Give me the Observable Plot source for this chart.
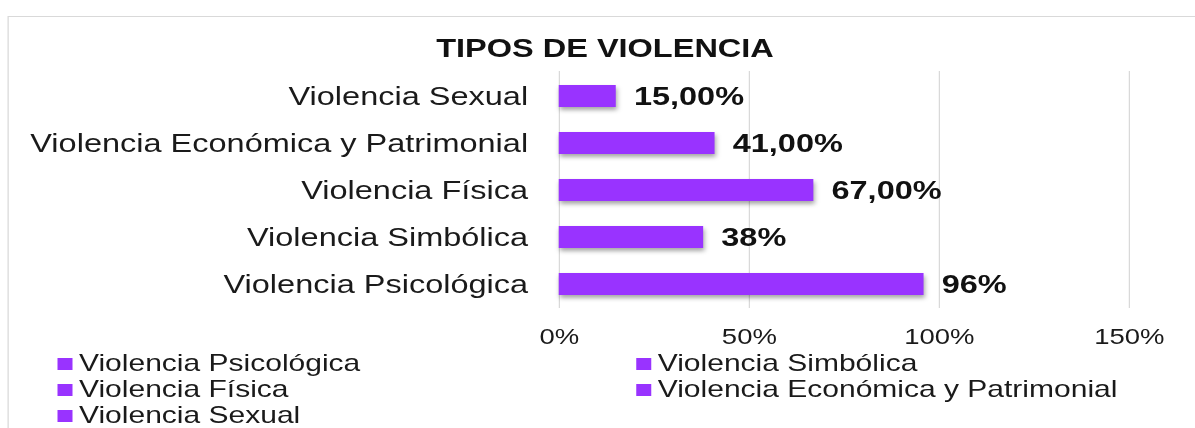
<!DOCTYPE html>
<html>
<head>
<meta charset="utf-8">
<script src="https://cdn.jsdelivr.net/npm/d3@7"></script>
<script src="https://cdn.jsdelivr.net/npm/@observablehq/plot@0.6"></script>
<style>
  html, body { margin: 0; padding: 0; background: #fff; overflow: hidden; width: 1195px; height: 428px; }
  #root { position: absolute; left: 0; top: 0; width: 956px; height: 428px; transform: scaleX(1.25); transform-origin: 0 0;
          font-family: "Liberation Sans", Arial, sans-serif; color: #1a1a1a; }
  #frame { position: absolute; left: 6.4px; top: 16px; width: 1000px; height: 500px; border: 1px solid #d9d9d9; box-sizing: border-box; }
  #title { position: absolute; left: 0; top: 35px; width: 968px; text-align: center; font-weight: bold; font-size: 26px; line-height: 26px; color: #111; }
  #chart { position: absolute; left: 0; top: 60px; }
  #legend { position: absolute; left: 45.6px; top: 350px; display: grid; grid-template-columns: 463px 463px; font-size: 24px; line-height: 26px; color: #1a1a1a; }
  .item { display: flex; align-items: center; white-space: nowrap; }
  .sw { display: inline-block; width: 12px; height: 12px; background: #9933ff; margin-right: 5.6px; position: relative; top: 1px; }
</style>
</head>
<body>
<div id="root">
  <div id="frame"></div>
  <div id="title"></div>
  <div id="chart"></div>
  <div id="legend"></div>
</div>
<script>
const titleText = "TIPOS DE VIOLENCIA";
const categories = ["Violencia Sexual", "Violencia Económica y Patrimonial", "Violencia Física", "Violencia Simbólica", "Violencia Psicológica"];
const values = [15, 41, 67, 38, 96];
const valueLabels = ["15,00%", "41,00%", "67,00%", "38%", "96%"];
const xTicks = [0, 50, 100, 150];
const legendItems = ["Violencia Psicológica", "Violencia Simbólica", "Violencia Física", "Violencia Económica y Patrimonial", "Violencia Sexual"];
const barColor = "#9933ff";

const data = categories.map((c, i) => ({category: c, value: values[i], label: valueLabels[i]}));

document.getElementById("title").textContent = titleText;

const plot = Plot.plot({
  width: 956,
  height: 289,
  marginLeft: 447,
  marginRight: 53,
  marginTop: 11,
  marginBottom: 41,
  style: {fontFamily: "Liberation Sans, Arial, sans-serif", fontSize: "26px", color: "#1a1a1a", background: "transparent", overflow: "visible"},
  x: {domain: [0, 150], ticks: xTicks, tickFormat: d => d + "%", tickSize: 0, tickPadding: 20, label: null},
  y: {domain: categories, paddingInner: 0.534, paddingOuter: 0.267, tickSize: 0, tickPadding: 25, label: null},
  marks: [
    Plot.ruleX(xTicks, {stroke: "#d9d9d9", strokeWidth: 1}),
    Plot.barX(data, {x: "value", y: "category", fill: barColor}),
    Plot.text(data, {x: "value", y: "category", text: "label", dx: 14, textAnchor: "start", fontWeight: "bold", fontSize: 26, fill: "#111"})
  ]
});
document.getElementById("chart").appendChild(plot);

const svg = d3.select(plot);
svg.selectAll('g[aria-label="bar"]').style("filter", "drop-shadow(1.5px 3px 2px rgba(0,0,0,0.35))");
svg.selectAll('g[aria-label^="x-axis"]').style("font-size", "22px");

const legend = d3.select("#legend");
legendItems.forEach(name => {
  const it = legend.append("div").attr("class", "item");
  it.append("span").attr("class", "sw").style("background", barColor);
  it.append("span").text(name);
});
</script>
</body>
</html>
